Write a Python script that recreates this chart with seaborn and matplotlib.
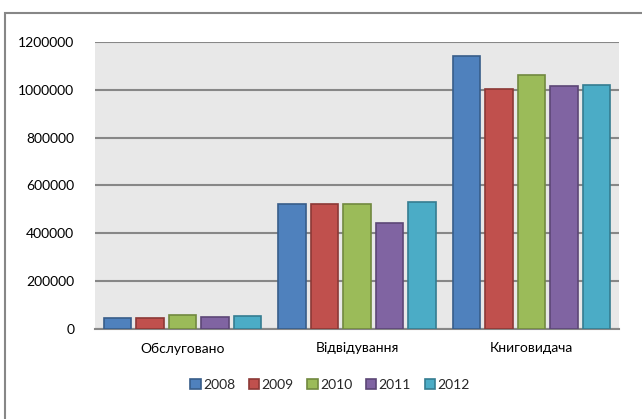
import pandas as pd
import matplotlib
matplotlib.use("Agg")
import matplotlib.pyplot as plt
from matplotlib.patches import Patch, Rectangle
import seaborn as sns

# дані з діаграми
categories = ["Обслуговано", "Відвідування", "Книговидача"]
years = ["2008", "2009", "2010", "2011", "2012"]
v2008 = [43000, 522000, 1144000]
v2009 = [46000, 522000, 1004000]
v2010 = [57000, 522000, 1064000]
v2011 = [49000, 441000, 1016000]
v2012 = [52000, 529000, 1021000]

fill_colors = ["#4F81BD", "#C0504D", "#9BBB59", "#8064A2", "#4BACC6"]
edge_colors = ["#385D8A", "#8C3836", "#71893F", "#5C4776", "#357D91"]

rows = []
for y, vals in zip(years, [v2008, v2009, v2010, v2011, v2012]):
    for c, v in zip(categories, vals):
        rows.append({"cat": c, "year": y, "value": v})
df = pd.DataFrame(rows)

sns.set_style("white")
plt.rcParams["font.family"] = ["Lato", "DejaVu Sans"]

fig = plt.figure(figsize=(6.42, 4.19), dpi=100)
ax = fig.add_axes([95 / 642, 1 - 328.5 / 419, (619 - 95) / 642, (328.5 - 42.3) / 419])
ax.set_facecolor("#E8E8E8")

sns.barplot(data=df, x="cat", y="value", hue="year", order=categories,
            hue_order=years, palette=fill_colors, width=0.93, gap=0.15,
            saturation=1, ax=ax, legend=False, zorder=3)

# обводка стовпчиків
for cont, ec in zip(ax.containers, edge_colors):
    for bar in cont:
        bar.set_edgecolor(ec)
        bar.set_linewidth(1.2)

ax.set_ylim(0, 1200000)
ax.set_yticks(range(0, 1200001, 200000))
ax.set_yticklabels([str(t) for t in range(0, 1200001, 200000)])
ax.yaxis.grid(True, color="#878787", linewidth=1.5, zorder=0)
ax.set_axisbelow(True)
for s in ["top", "right", "left"]:
    ax.spines[s].set_visible(False)
ax.spines["bottom"].set_color("#878787")
ax.spines["bottom"].set_linewidth(1.5)
ax.tick_params(axis="both", length=0, labelsize=10, colors="black")
ax.tick_params(axis="y", pad=15)
ax.tick_params(axis="x", pad=10)
ax.set_xlabel("")
ax.set_ylabel("")

handles = [Patch(facecolor=f, edgecolor=e, linewidth=1.2) for f, e in zip(fill_colors, edge_colors)]
fig.legend(handles, years, loc="center", bbox_to_anchor=(330 / 642, 1 - 385 / 419),
           ncol=5, frameon=False, fontsize=10, handlelength=0.75, handleheight=0.75,
           handletextpad=0.15, columnspacing=1.0)

# рамка діаграми
fig.add_artist(Rectangle((5 / 642, -0.1), 1.2, 1 - 13 / 419 + 0.1,
                         transform=fig.transFigure, fill=False,
                         edgecolor="#878787", linewidth=1.5, clip_on=False))

fig.savefig("out.png", dpi=100)
